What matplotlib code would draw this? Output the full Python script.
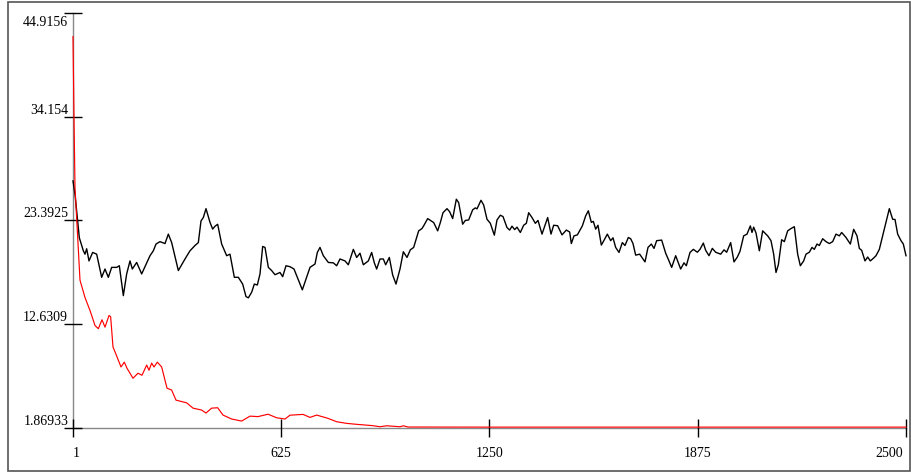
import matplotlib
matplotlib.use("Agg")
import matplotlib.pyplot as plt
from matplotlib.patches import Rectangle
from matplotlib.transforms import ScaledTranslation

# ---- data ----
red_iter = [1, 4, 7, 22, 37, 52, 67, 77, 88, 97, 109, 114, 121, 129, 145, 155, 163, 181, 196, 208,
            222, 229, 237, 244, 254, 267, 283, 297, 310, 342, 361, 387, 400, 417, 435, 451, 477, 507,
            532, 556, 586, 612, 637, 652, 691, 712, 732, 766, 792, 822, 852, 901, 922, 942, 982, 992,
            1006, 1250, 1875, 2500]
red_val = [42.46, 34.1, 26.8, 17.2, 15.4, 14.06, 12.5, 12.17, 13.1, 12.33, 13.54, 13.4, 10.27, 9.6,
           8.2, 8.7, 8.07, 7.03, 7.55, 7.34, 8.4, 7.86, 8.6, 8.2, 8.7, 8.2, 6.0, 5.8, 4.76, 4.48,
           3.93, 3.73, 3.42, 3.93, 3.97, 3.21, 2.8, 2.59, 3.1, 3.05, 3.3, 2.93, 2.8, 3.2, 3.28, 2.97,
           3.21, 2.87, 2.52, 2.35, 2.25, 2.11, 2.0, 2.1, 2.0, 2.1, 1.97, 1.96, 1.96, 1.96]

black_iter = [1, 7, 20, 32, 37, 42, 49, 60, 72, 87, 97, 107, 117, 132, 140, 152, 162, 172, 179, 192,
              207, 232, 242, 250, 262, 277, 287, 297, 317, 337, 352, 367, 377, 385, 392, 400, 412, 420,
              427, 435, 447, 462, 472, 485, 497, 510, 520, 527, 537, 545, 554, 562, 570, 577, 587, 597,
              607, 622, 630, 640, 652, 664, 677, 689, 702, 712, 727, 734, 742, 752, 767, 782, 792, 802,
              817, 827, 842, 852, 862, 872, 887, 897, 905, 912, 922, 932, 939, 950, 960, 970, 982, 992,
              1003, 1013, 1023, 1038, 1048, 1054, 1065, 1083, 1095, 1103, 1111, 1123, 1131, 1140, 1151,
              1158, 1170, 1178, 1188, 1200, 1208, 1213, 1225, 1233, 1243, 1253, 1265, 1273, 1283, 1291,
              1303, 1311, 1318, 1326, 1333, 1343, 1353, 1361, 1368, 1378, 1388, 1396, 1408, 1425, 1435,
              1443, 1455, 1468, 1481, 1491, 1496, 1504, 1514, 1529, 1539, 1547, 1556, 1562, 1569, 1576,
              1586, 1596, 1604, 1614, 1621, 1629, 1639, 1649, 1657, 1667, 1674, 1681, 1689, 1701, 1709,
              1717, 1726, 1736, 1744, 1752, 1767, 1779, 1789, 1797, 1809, 1824, 1834, 1841, 1852, 1862,
              1874, 1882, 1892, 1899, 1909, 1919, 1929, 1944, 1954, 1962, 1974, 1984, 1994, 2002, 2013,
              2023, 2033, 2038, 2043, 2050, 2060, 2070, 2085, 2095, 2103, 2110, 2117, 2127, 2135, 2145,
              2155, 2165, 2175, 2183, 2193, 2200, 2210, 2218, 2225, 2233, 2240, 2250, 2260, 2270, 2280,
              2290, 2300, 2307, 2320, 2333, 2343, 2353, 2360, 2367, 2377, 2385, 2393, 2403, 2410, 2420,
              2430, 2440, 2450, 2460, 2467, 2475, 2485, 2492, 2500]
black_val = [27.5, 26.1, 21.6, 20.25, 19.9, 20.46, 19.2, 20.08, 19.9, 17.5, 18.36, 17.5, 18.53, 18.53,
             18.7, 15.6, 17.85, 19.2, 18.36, 19.04, 17.85, 19.74, 20.25, 20.95, 21.2, 21.0, 21.98, 21.1,
             18.2, 19.4, 20.25, 20.8, 21.1, 23.35, 23.7, 24.62, 23.2, 22.5, 22.8, 23.0, 20.95, 19.74,
             19.9, 17.5, 17.5, 16.8, 15.5, 15.37, 15.95, 16.8, 16.7, 17.85, 20.7, 20.6, 18.53, 18.2,
             17.77, 18.0, 17.57, 18.7, 18.6, 18.36, 17.23, 16.2, 17.5, 18.53, 18.88, 20.08, 20.6, 19.74,
             19.04, 19.0, 18.7, 19.4, 19.2, 18.8, 20.4, 19.56, 20.0, 18.8, 19.2, 20.08, 19.0, 18.36,
             19.4, 19.4, 18.8, 19.56, 17.74, 16.8, 18.36, 20.15, 19.56, 20.35, 20.6, 22.32, 22.56, 22.9,
             23.59, 23.18, 22.32, 23.18, 24.2, 24.62, 24.3, 23.59, 25.6, 25.24, 23.01, 23.4, 23.45, 24.5,
             24.7, 24.6, 25.49, 25.0, 23.52, 23.1, 21.87, 23.45, 23.94, 23.8, 22.66, 22.4, 22.8, 22.45,
             22.7, 22.15, 22.9, 23.1, 24.2, 23.7, 23.1, 23.4, 21.98, 23.7, 21.98, 22.9, 22.85, 21.9,
             22.4, 22.2, 21.0, 21.8, 21.9, 22.83, 23.87, 24.4, 23.2, 23.3, 22.5, 22.9, 20.84, 21.46,
             21.98, 21.3, 21.6, 20.6, 20.08, 21.1, 20.8, 21.63, 21.5, 21.0, 19.8, 19.9, 19.5, 19.1, 20.6,
             20.95, 20.5, 21.3, 21.36, 20.0, 19.2, 18.53, 19.74, 18.36, 19.0, 18.7, 20.08, 20.4, 20.1,
             20.4, 21.05, 20.3, 19.74, 20.5, 20.1, 19.9, 20.35, 20.1, 21.1, 19.1, 19.6, 20.2, 21.8, 21.98,
             22.83, 22.15, 22.7, 22.1, 20.25, 22.32, 21.8, 21.3, 19.9, 18.0, 18.8, 21.4, 21.2, 22.32,
             22.56, 22.75, 19.9, 18.7, 19.2, 19.9, 20.1, 20.6, 20.4, 20.95, 20.8, 21.5, 21.2, 21.0, 21.2,
             21.98, 21.8, 22.15, 21.63, 20.95, 22.48, 21.8, 20.5, 20.3, 19.2, 19.6, 19.2, 19.5, 19.74,
             20.4, 21.8, 23.18, 24.62, 23.52, 23.5, 21.98, 21.3, 20.95, 19.74]

x_ticks = [1, 625, 1250, 1875, 2500]
x_labels = ["1", "625", "1250", "1875", "2500"]
y_ticks = [1.86933, 12.6309, 23.3925, 34.154, 44.9156]
y_labels = ["1.86933", "12.6309", "23.3925", "34.154", "44.9156"]

# ---- figure ----
W, H = 912, 473
fig = plt.figure(figsize=(W / 100, H / 100), dpi=100)
plt.rcParams['font.family'] = ['Liberation Serif', 'DejaVu Serif']

fig.patches.append(Rectangle((8 / W, 1 - 471 / H), (910 - 8) / W, (471 - 2) / H,
                             transform=fig.transFigure, fill=False, edgecolor='#555555',
                             linewidth=1.2))

ax = fig.add_axes([73 / W, (H - 428) / H, (906 - 73) / W, (428 - 13) / H])
ax.plot(black_iter, black_val, color='black', linewidth=1.0, solid_joinstyle='round',
        zorder=3, clip_on=False)
ax.plot(red_iter, red_val, color='#ff0000', linewidth=0.85, solid_joinstyle='round',
        zorder=4, clip_on=False)

ax.set_xlim(1, 2500)
ax.set_ylim(1.86933, 44.9156)
for s in ['top', 'right']:
    ax.spines[s].set_visible(False)
for s in ['left', 'bottom']:
    ax.spines[s].set_color('#888888')
    ax.spines[s].set_linewidth(1.0)
    ax.spines[s].set_zorder(1)

ax.set_xticks(x_ticks)
ax.set_xticklabels(x_labels)
ax.set_yticks(y_ticks)
ax.set_yticklabels(y_labels)
ax.tick_params(axis='both', direction='inout', length=13, width=1.0, color='black',
               labelsize=10, labelcolor='black')
ax.tick_params(axis='x', pad=7)
ax.tick_params(axis='y', pad=-3)

xl = ax.get_xticklabels()
xl[0].set_horizontalalignment('left')
xl[-1].set_horizontalalignment('right')
xl[-1].set_transform(xl[-1].get_transform() + ScaledTranslation(-2 / 72, 0, fig.dpi_scale_trans))

yl = ax.get_yticklabels()
for lab in yl:
    lab.set_verticalalignment('bottom')
yl[-1].set_verticalalignment('top')
yl[-1].set_transform(yl[-1].get_transform() + ScaledTranslation(0, -2.5 / 72, fig.dpi_scale_trans))

fig.savefig("out.png", dpi=100)
